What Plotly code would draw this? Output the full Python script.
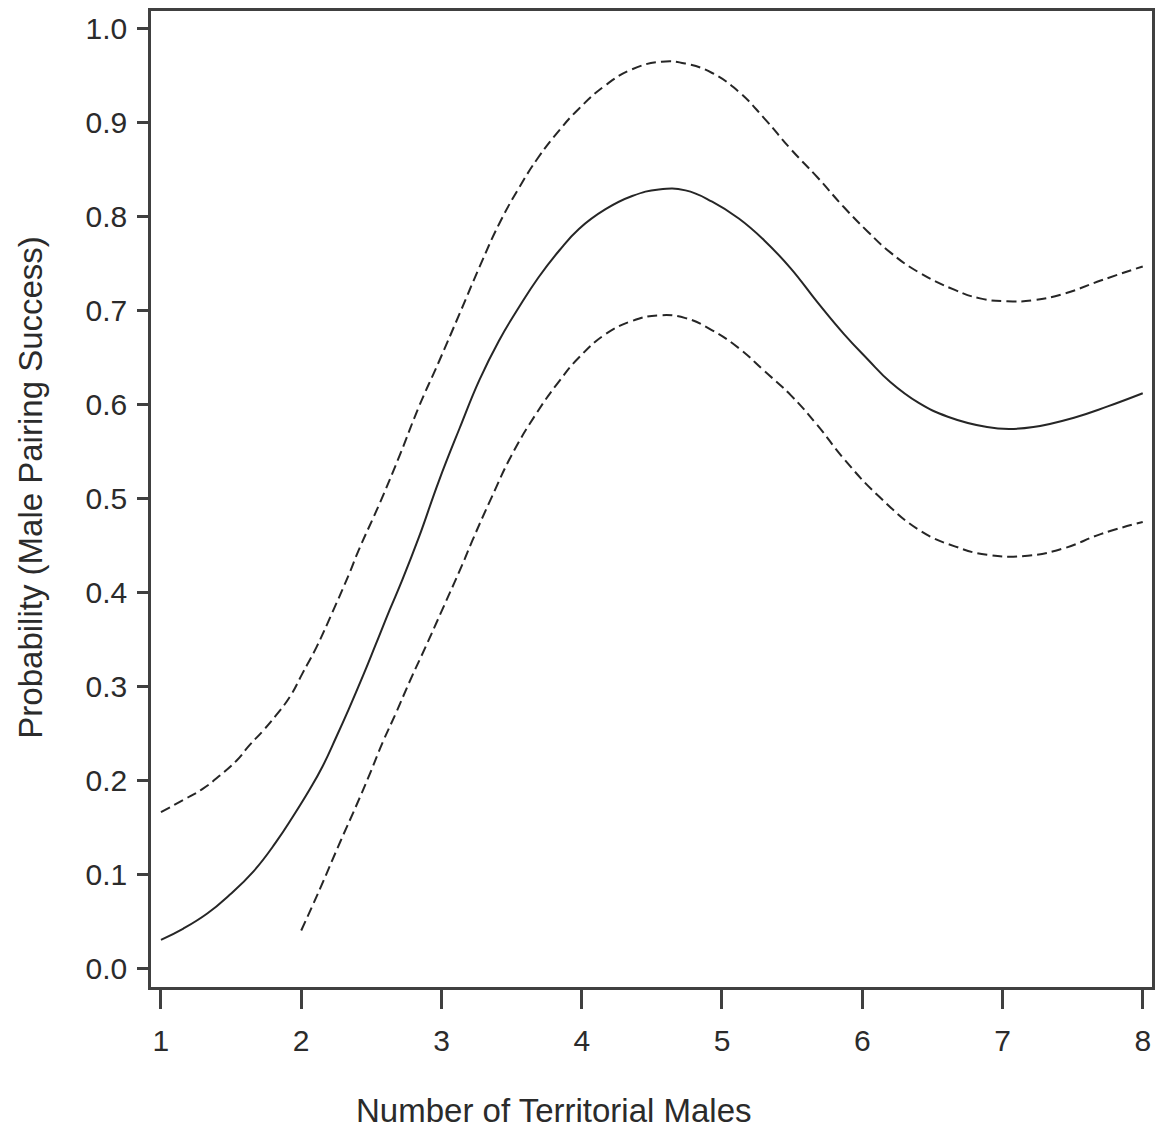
import plotly.graph_objects as go

# Fitted probability (solid) and confidence limits (dashed)
x_mid = [1.0, 1.16, 1.33, 1.49, 1.66, 1.82, 1.94, 2.06, 2.15, 2.25, 2.34, 2.44, 2.53, 2.63,
         2.72, 2.84, 2.98, 3.13, 3.27, 3.41, 3.55, 3.69, 3.84, 3.98, 4.17, 4.36, 4.55, 4.74,
         4.93, 5.12, 5.30, 5.49, 5.68, 5.87, 6.04, 6.20, 6.40, 6.61, 6.89, 7.05, 7.22, 7.51,
         7.75, 8.0]
y_mid = [0.030, 0.042, 0.058, 0.078, 0.103, 0.134, 0.161, 0.190, 0.214, 0.246, 0.276, 0.311,
         0.344, 0.381, 0.413, 0.459, 0.518, 0.575, 0.626, 0.668, 0.703, 0.735, 0.764, 0.787,
         0.808, 0.822, 0.829, 0.828, 0.816, 0.798, 0.775, 0.745, 0.709, 0.675, 0.648, 0.624,
         0.602, 0.587, 0.576, 0.574, 0.576, 0.586, 0.598, 0.612]

x_upper = [1.0, 1.16, 1.30, 1.42, 1.54, 1.63, 1.73, 1.82, 1.92, 2.01, 2.11, 2.22, 2.34, 2.41,
           2.56, 2.70, 2.84, 2.98, 3.13, 3.27, 3.41, 3.55, 3.69, 3.84, 3.98, 4.17, 4.36, 4.57,
           4.74, 4.93, 5.12, 5.30, 5.49, 5.68, 5.87, 6.04, 6.20, 6.40, 6.66, 6.84, 7.03, 7.22,
           7.44, 7.70, 8.0]
y_upper = [0.166, 0.179, 0.191, 0.205, 0.221, 0.237, 0.253, 0.269, 0.289, 0.314, 0.342, 0.378,
           0.419, 0.445, 0.495, 0.545, 0.598, 0.645, 0.697, 0.746, 0.792, 0.830, 0.863, 0.892,
           0.915, 0.940, 0.957, 0.965, 0.963, 0.953, 0.933, 0.905, 0.872, 0.842, 0.810, 0.784,
           0.762, 0.741, 0.722, 0.713, 0.710, 0.711, 0.718, 0.732, 0.747]

x_lower = [2.0, 2.13, 2.28, 2.39, 2.49, 2.58, 2.68, 2.77, 2.89, 3.01, 3.15, 3.22, 3.36, 3.50,
           3.67, 3.84, 3.98, 4.17, 4.36, 4.55, 4.74, 4.93, 5.12, 5.30, 5.49, 5.68, 5.87, 6.12,
           6.42, 6.66, 6.89, 7.18, 7.44, 7.70, 8.0]
y_lower = [0.040, 0.083, 0.135, 0.172, 0.207, 0.240, 0.273, 0.304, 0.343, 0.383, 0.430, 0.455,
           0.502, 0.546, 0.589, 0.625, 0.650, 0.675, 0.689, 0.695, 0.692, 0.679, 0.660, 0.636,
           0.610, 0.578, 0.542, 0.502, 0.465, 0.449, 0.440, 0.439, 0.447, 0.462, 0.475]

x_ticks = [1, 2, 3, 4, 5, 6, 7, 8]
y_ticks = [0.0, 0.1, 0.2, 0.3, 0.4, 0.5, 0.6, 0.7, 0.8, 0.9, 1.0]

x_title = "Number of Territorial Males"
y_title = "Probability (Male Pairing Success)"

line_col = "#262626"
text_col = "#2b2b2b"
axis_col = "#404040"
font_family = "Liberation Sans, Arial, sans-serif"

fig = go.Figure()
fig.add_trace(go.Scatter(x=x_upper, y=y_upper, mode="lines", line_shape="spline",
                         line=dict(color=line_col, width=2, dash="10px,5px", smoothing=1.3),
                         showlegend=False))
fig.add_trace(go.Scatter(x=x_mid, y=y_mid, mode="lines", line_shape="spline",
                         line=dict(color=line_col, width=2, smoothing=1.3), showlegend=False))
fig.add_trace(go.Scatter(x=x_lower, y=y_lower, mode="lines", line_shape="spline",
                         line=dict(color=line_col, width=2, dash="10px,5px", smoothing=1.3),
                         showlegend=False))

fig.update_layout(
    width=1158, height=1135,
    margin=dict(l=151, r=3, t=11, b=148),
    paper_bgcolor="white", plot_bgcolor="white",
    font=dict(family=font_family, color=text_col, size=30),
    xaxis=dict(range=[0.929, 8.066], tickvals=x_ticks, ticktext=[str(v) for v in x_ticks],
               showgrid=False, zeroline=False, showline=True, mirror=True,
               linecolor=axis_col, linewidth=2.5, ticks="outside", ticklen=19,
               tickwidth=2.5, tickcolor=axis_col, ticklabelstandoff=6,
               tickfont=dict(size=30, color=text_col)),
    yaxis=dict(range=[-0.0202, 1.019], tickvals=y_ticks, ticktext=[f"{v:.1f}" for v in y_ticks],
               showgrid=False, zeroline=False, showline=True, mirror=True,
               linecolor=axis_col, linewidth=2.5, ticks="outside", ticklen=11,
               tickwidth=2.5, tickcolor=axis_col, ticklabelstandoff=4,
               tickfont=dict(size=30, color=text_col)),
    annotations=[
        dict(text=x_title, xref="paper", yref="paper", x=0.403, y=-0.127,
             xanchor="center", yanchor="middle", showarrow=False,
             font=dict(size=33, color=text_col, family=font_family)),
        dict(text=y_title, xref="paper", yref="paper", x=-0.1205, y=0.512,
             xanchor="center", yanchor="middle", showarrow=False, textangle=-90,
             font=dict(size=33, color=text_col, family=font_family)),
    ],
)

fig.write_html("out.html")
